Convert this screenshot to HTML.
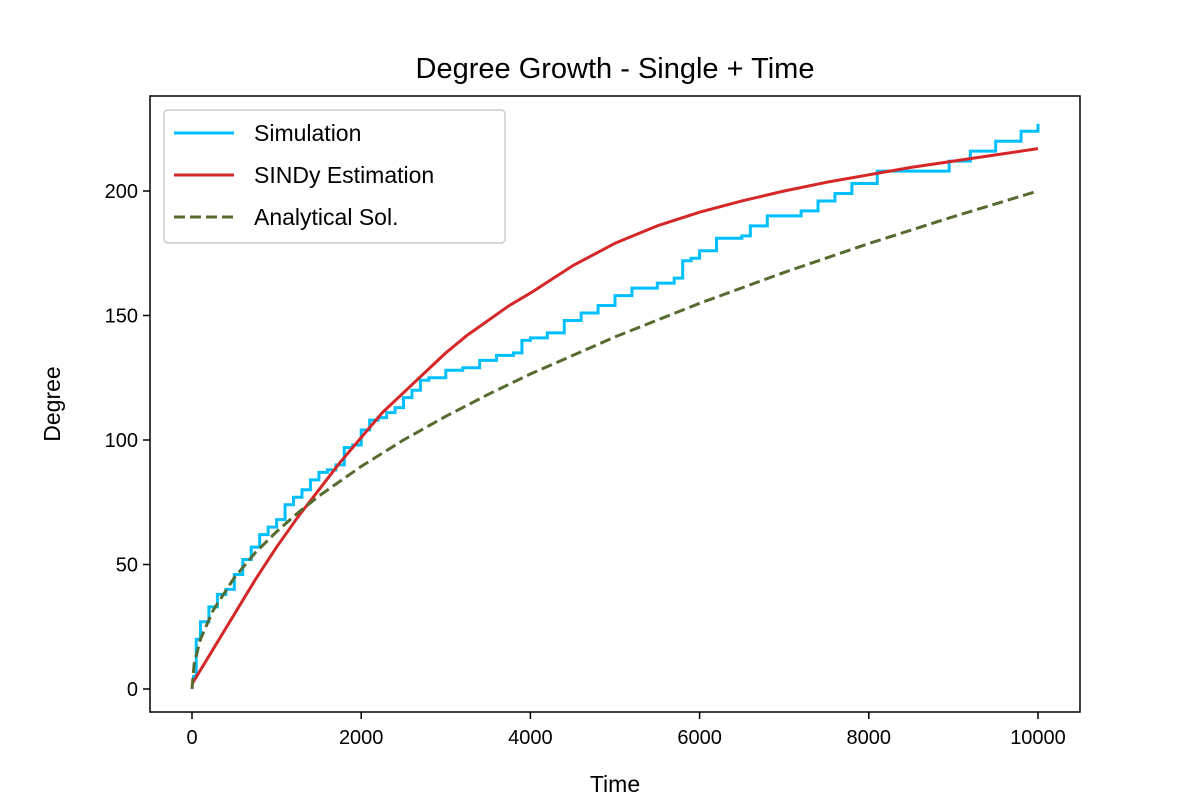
<!DOCTYPE html>
<html><head><meta charset="utf-8"><style>body{margin:0;background:#fff}svg{font-family:"Liberation Sans","DejaVu Sans",sans-serif}</style></head>
<body>
<svg id="c" width="1200" height="800"></svg>
<script>
const xTicks=[0,2000,4000,6000,8000,10000];
const yTicks=[0,50,100,150,200];
const simT=[0,50,100,200,300,400,500,600,700,800,900,1000,1100,1200,1300,1400,1500,1600,1700,1800,1900,2000,2100,2200,2300,2400,2500,2600,2700,2800,3000,3200,3400,3600,3800,3900,4000,4200,4400,4600,4800,5000,5200,5500,5700,5800,5900,6000,6200,6500,6600,6800,7200,7400,7600,7800,8100,8800,8950,9200,9500,9800,10000];
const simY=[5,20,27,33,38,40,46,52,57,62,65,68,74,77,80,84,87,88,90,97,98,104,108,109,111,113,117,120,124,125,128,129,132,134,135,140,141,143,148,151,154,158,161,163,165,172,173,176,181,182,186,190,192,196,199,203,208,208,212,216,220,224,227];
const sindyT=[0,250,500,750,1000,1250,1500,1750,2000,2250,2500,2750,3000,3250,3500,3750,4000,4500,5000,5500,6000,6500,7000,7500,8000,8500,9000,9500,10000];
const sindyY=[2,16,30,44,57,69,80,91,101,111,119,127,135,142,148,154,159,170,179,186,191.5,196,200,203.5,206.5,209.5,212,214.5,217];
const anaT=[0,25,100,250,500,750,1000,1250,1500,2000,2500,3000,3500,4000,5000,6000,7000,8000,9000,10000];
const anaY=[0,10,20,31.6,44.7,54.8,63.2,70.7,77.5,89.4,100,109.5,118.3,126.5,141.4,154.9,167.3,178.9,189.7,200];
const NS='http://www.w3.org/2000/svg',svg=document.getElementById('c');
const L=150,R=1080,T=96,B=712;
const xs=v=>192+v*(1038-192)/10000, ys=v=>689-v*(689-191)/200;
function el(t,a,p){const e=document.createElementNS(NS,t);for(const k in a)e.setAttribute(k,a[k]);(p||svg).appendChild(e);return e;}
const frame=el('rect',{x:L,y:T,width:R-L,height:B-T,fill:'none',stroke:'#000','stroke-width':1.5});


xTicks.forEach(v=>{const x=xs(v);const tk=el('line',{x1:x,x2:x,y1:B,y2:B+7,stroke:'#000','stroke-width':1.5});


const t=el('text',{x:x,y:B+32,'text-anchor':'middle','font-size':20});t.textContent=v;

});
yTicks.forEach(v=>{const y=ys(v);const tk=el('line',{x1:L-7,x2:L,y1:y,y2:y,stroke:'#000','stroke-width':1.5});


const t=el('text',{x:L-12,y:y+7,'text-anchor':'end','font-size':20});t.textContent=v;

});
let d='';simT.forEach((t,i)=>{d+=i?`H${xs(t)}V${ys(simY[i])}`:`M${xs(t)},${ys(simY[i])}`;});
const ps=el('path',{d,fill:'none',stroke:'#00bfff','stroke-width':3});


function poly(tt,yy,c,extra,name){const p=el('polyline',Object.assign({points:tt.map((t,i)=>xs(t)+','+ys(yy[i])).join(' '),fill:'none',stroke:c,'stroke-width':3,'stroke-linejoin':'round'},extra));

}
poly(sindyT,sindyY,'#d62728',{},'sindy-line');
poly(anaT,anaY,'#556b2f',{'stroke-dasharray':'11,5'},'analytical-line');
const title=el('text',{x:615,y:78,'text-anchor':'middle','font-size':29});title.textContent='Degree Growth - Single + Time';


const xl=el('text',{x:615,y:792,'text-anchor':'middle','font-size':23});xl.textContent='Time';


const yl=el('text',{x:60,y:404,'text-anchor':'middle','font-size':23,transform:'rotate(-90 60 404)'});yl.textContent='Degree';


const lg=el('rect',{x:164,y:110,width:341,height:133,rx:4,fill:'#fff','fill-opacity':0.8,stroke:'#ccc','stroke-width':1.5});


[['Simulation','#00bfff',''],['SINDy Estimation','#d62728',''],['Analytical Sol.','#556b2f','11,5']].forEach((e,i)=>{const y=133+i*42;
const ln=el('line',{x1:174,x2:234,y1:y,y2:y,stroke:e[1],'stroke-width':3,'stroke-dasharray':e[2]||'none'});


const t=el('text',{x:254,y:y+8,'font-size':23});t.textContent=e[0];

});
</script>
</body></html>
